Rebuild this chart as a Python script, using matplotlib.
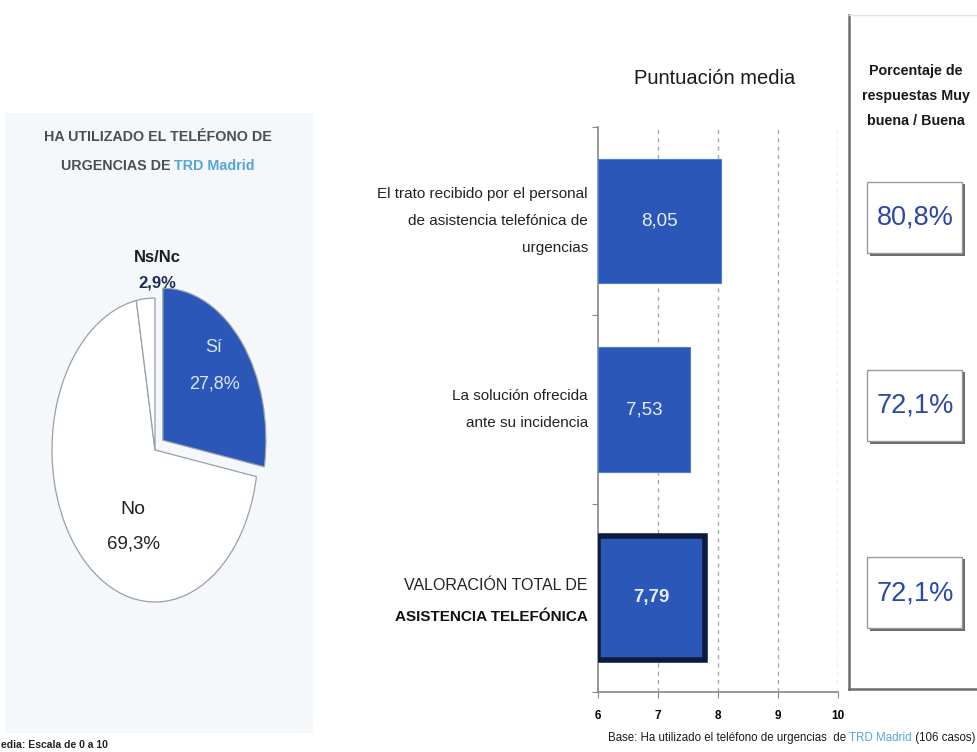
import matplotlib.pyplot as plt
from matplotlib.patches import Rectangle
from matplotlib.lines import Line2D

# datos
pie_labels = ['Sí', 'No', 'Ns/Nc']
pie_values = [27.8, 69.3, 2.9]
pie_texts = ['27,8%', '69,3%', '2,9%']
categories = ['El trato recibido por el personal\nde asistencia telefónica de\nurgencias',
              'La solución ofrecida\nante su incidencia',
              'VALORACIÓN TOTAL DE']
scores = [8.05, 7.53, 7.79]
score_labels = ['8,05', '7,53', '7,79']
pct_good = ['80,8%', '72,1%', '72,1%']
xticks = [6, 7, 8, 9, 10]

W, H = 977, 752
BLUE = '#2a57b8'
NAVY = '#0c1b3e'
GREY = '#4b4f55'
LIGHTBLUE = '#55a5da'

plt.rcParams['font.family'] = ['Liberation Sans', 'DejaVu Sans']


def fx(x):
    return x / W


def fy(y):
    return 1 - y / H


fig = plt.figure(figsize=(W / 100, H / 100), dpi=100)
renderer = fig.canvas.get_renderer()


def text_run(x, y, parts, size, ha='left'):
    # escribe varios trozos de texto seguidos en una línea (x, y en píxeles)
    widths = []
    for s, color, weight in parts:
        t = fig.text(0, 0, s, fontsize=size, fontweight=weight)
        widths.append(t.get_window_extent(renderer).width)
        t.remove()
    total = sum(widths)
    if ha == 'center':
        x = x - total / 2
    elif ha == 'right':
        x = x - total
    for (s, color, weight), w in zip(parts, widths):
        fig.text(fx(x), fy(y), s, ha='left', va='center', fontsize=size,
                 fontweight=weight, color=color)
        x += w


# panel del pie
fig.patches.append(Rectangle((fx(5), fy(733)), fx(308), (733 - 113) / H,
                             transform=fig.transFigure, facecolor='#f4f8fa',
                             edgecolor='none', zorder=-5))
fig.text(fx(158), fy(137), 'HA UTILIZADO EL TELÉFONO DE', ha='center', va='center',
         fontsize=10.3, fontweight='bold', color=GREY)
text_run(158, 166, [('URGENCIAS DE ', GREY, 'bold'), ('TRD Madrid', LIGHTBLUE, 'bold')],
         10.3, ha='center')

# pie elíptico
cx, cy, rx, ry = 155, 450, 103, 152
axp = fig.add_axes([fx(cx - 1.3 * rx), fy(cy + 1.3 * ry), 2.6 * rx / W, 2.6 * ry / H])
axp.pie(pie_values, colors=[BLUE, 'white', 'white'], startangle=90, counterclock=False,
        explode=[0.1, 0, 0], wedgeprops=dict(edgecolor='#9a9fa8', linewidth=0.9))
axp.set_aspect('auto')
axp.set_xlim(-1.3, 1.3)
axp.set_ylim(-1.3, 1.3)
axp.patch.set_alpha(0)

fig.text(fx(214), fy(348), pie_labels[0], ha='center', va='center', fontsize=13, color='#dce6f7')
fig.text(fx(214), fy(384), pie_texts[0], ha='center', va='center', fontsize=13, color='#dce6f7')
fig.text(fx(133), fy(510), pie_labels[1], ha='center', va='center', fontsize=14, color='#222222')
fig.text(fx(133), fy(544), pie_texts[1], ha='center', va='center', fontsize=13.5, color='#222222')
fig.text(fx(157), fy(258), pie_labels[2], ha='center', va='center', fontsize=12,
         fontweight='bold', color='#1d1d1d')
fig.text(fx(157), fy(283), pie_texts[2], ha='center', va='center', fontsize=12,
         fontweight='bold', color='#1f2d55')

# nota cortada en el borde izquierdo del original
fig.text(fx(1), fy(745), 'edia: Escala de 0 a 10', ha='left', va='center',
         fontsize=7.5, fontweight='bold', color='#222222')

# barras
axb = fig.add_axes([fx(598), fy(692), 240 / W, (692 - 127) / H])
ypos = list(range(len(scores)))
bars = axb.barh(ypos, [s - 6 for s in scores], left=6, height=0.66, color=BLUE,
                edgecolor='#4a7fd8', linewidth=0.8, zorder=3)
bars[2].set_edgecolor(NAVY)
bars[2].set_linewidth(4)
axb.set_xlim(6, 10)
axb.set_ylim(2.5, -0.5)
axb.set_xticks(xticks)
axb.set_xticklabels([str(t) for t in xticks], fontsize=8.5, fontweight='bold')
axb.tick_params(axis='x', length=4, pad=9, color='#888888')
axb.set_yticks([-0.5, 0.5, 1.5, 2.5])
axb.set_yticklabels([])
axb.tick_params(axis='y', length=4, color='#888888')
for t in xticks[1:]:
    axb.axvline(t, color='#aaaaaa', linestyle=(0, (3, 3)), linewidth=1, zorder=1)
for s in ['top', 'right']:
    axb.spines[s].set_visible(False)
axb.spines['left'].set_color('#888888')
axb.spines['bottom'].set_color('#888888')
axb.spines['left'].set_linewidth(1.2)
axb.spines['bottom'].set_linewidth(1.2)

for i, (s, lab) in enumerate(zip(scores, score_labels)):
    axb.text(6 + (s - 6) / 2, i, lab, ha='center', va='center', fontsize=13.5,
             color='#e6eeff', fontweight='bold' if i == 2 else 'normal', zorder=4)

for i, lab in enumerate(categories[:2]):
    axb.text(-0.042, i, lab, transform=axb.get_yaxis_transform(), ha='right', va='center',
             fontsize=11, color='#222222', linespacing=2.2)
axb.annotate(categories[2], (0, 2), xycoords=axb.get_yaxis_transform(),
             xytext=(-10, 12), textcoords='offset pixels', ha='right', va='center',
             fontsize=11.5, color='#222222')
axb.annotate('ASISTENCIA TELEFÓNICA', (0, 2), xycoords=axb.get_yaxis_transform(),
             xytext=(-10, -19), textcoords='offset pixels', ha='right', va='center',
             fontsize=11, color='#111111', fontweight='bold')

fig.text(fx(715), fy(78), 'Puntuación media', ha='center', va='center', fontsize=14.5,
         color='#1a1a1a')

text_run(975, 738, [('Base: Ha utilizado el teléfono de urgencias  de ', '#1a1a1a', 'normal'),
                    ('TRD Madrid', LIGHTBLUE, 'normal'),
                    (' (106 casos)', '#1a1a1a', 'normal')], 8.3, ha='right')

# panel derecho
fig.add_artist(Line2D([fx(849), fx(849)], [fy(15), fy(689)], color='#6d6d6d', linewidth=1.8))
fig.add_artist(Line2D([fx(849), fx(977)], [fy(689), fy(689)], color='#6d6d6d', linewidth=1.8))
fig.add_artist(Line2D([fx(849), fx(977)], [fy(15), fy(15)], color='#e2e2e2', linewidth=1))
fig.text(fx(916), fy(96), 'Porcentaje de\nrespuestas Muy\nbuena / Buena', ha='center',
         va='center', fontsize=10.3, fontweight='bold', color='#1a1a1a', linespacing=2.0)

box_tops = [182, 370, 557]
for top, txt in zip(box_tops, pct_good):
    fig.patches.append(Rectangle((fx(870), fy(top + 74)), 95 / W, 72 / H,
                                 transform=fig.transFigure, facecolor='#6a6a6a',
                                 edgecolor='none', zorder=2))
    fig.patches.append(Rectangle((fx(867), fy(top + 71)), 95 / W, 71 / H,
                                 transform=fig.transFigure, facecolor='white',
                                 edgecolor='#9a9a9a', linewidth=1, zorder=3))
    fig.text(fx(915), fy(top + 36), txt, ha='center', va='center', fontsize=19.5,
             color='#2b4aa6', zorder=4)

fig.savefig('out.png', dpi=100)
